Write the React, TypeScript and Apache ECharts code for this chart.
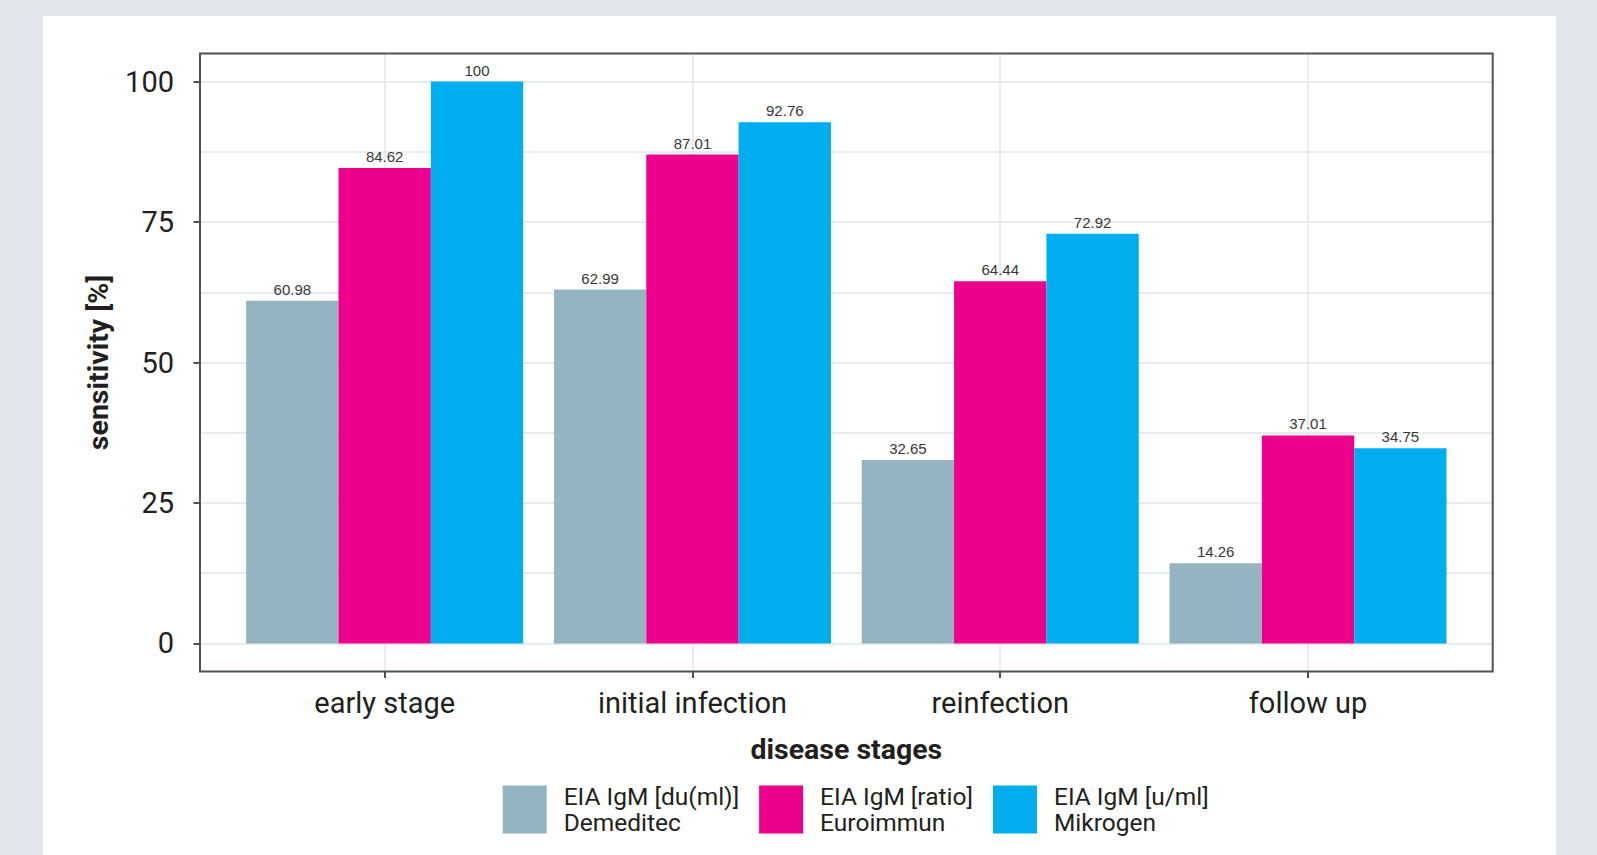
import React, { useEffect, useRef } from "react";
import * as echarts from "echarts";

// Sensitivity of three IgM EIA kits per disease stage
const stages = ["early stage", "initial infection", "reinfection", "follow up"];
const demeditec = [60.98, 62.99, 32.65, 14.26];
const euroimmun = [84.62, 87.01, 64.44, 37.01];
const mikrogen = [100, 92.76, 72.92, 34.75];
const seriesNames = [
  "EIA IgM [du(ml)]\nDemeditec",
  "EIA IgM [ratio]\nEuroimmun",
  "EIA IgM [u/ml]\nMikrogen",
];
const seriesValues = [demeditec, euroimmun, mikrogen];
const seriesColors = ["#95b4c1", "#ec008c", "#00aeef"];
const yTickStep = 25;
const yMin = 0;
const yMax = 100;

// panel geometry (ggplot-like expanded panel)
const W = 1597;
const H = 855;
const PANEL = { x: 200, y: 53.5, w: 1292.7, h: 618 };
const Y_EXPAND = 0.05; // of data range on each side
const X_EXPAND = 0.6; // category units on each side

const FONT = "Roboto, 'Noto Sans', sans-serif";
const INK = "#231f20";
const FRAME = "#4b5356";
const GRID = "#e1e6e9";

export default function App() {
  const ref = useRef<HTMLDivElement>(null);

  useEffect(() => {
    if (!ref.current) return;
    const chart = echarts.init(ref.current, undefined, { renderer: "svg" });

    const span = yMax - yMin;
    const fullSpan = span * (1 + 2 * Y_EXPAND);
    const pxPerUnit = PANEL.h / fullSpan;
    const innerTop = PANEL.y + Y_EXPAND * span * pxPerUnit;
    const innerHeight = span * pxPerUnit;

    const n = stages.length;
    const unit = PANEL.w / (n - 1 + 2 * X_EXPAND);
    const bandLeft = PANEL.x + (X_EXPAND - 0.5) * unit;
    const bandWidth = n * unit;

    chart.setOption({
      animation: false,
      backgroundColor: "#e1e6ea",
      graphic: [
        {
          type: "rect",
          z: -10,
          silent: true,
          shape: { x: 43, y: 16, width: 1513, height: H },
          style: { fill: "#ffffff" },
        },
        {
          type: "rect",
          z: 10,
          silent: true,
          shape: { x: PANEL.x, y: PANEL.y, width: PANEL.w, height: PANEL.h },
          style: { fill: "none", stroke: FRAME, lineWidth: 2 },
        },
      ],
      grid: [
        {
          left: PANEL.x,
          top: innerTop,
          width: PANEL.w,
          height: innerHeight,
          outerBoundsMode: "none",
        },
        {
          left: bandLeft,
          top: PANEL.y,
          width: bandWidth,
          height: PANEL.h,
          outerBoundsMode: "none",
        },
      ],
      xAxis: [
        { gridIndex: 0, type: "value", min: 0, max: 1, show: false },
        {
          // vertical grid lines at category centres
          gridIndex: 1,
          type: "category",
          position: "bottom",
          data: stages,
          axisLine: { show: false, onZero: false },
          axisLabel: { show: false },
          axisTick: {
            show: true,
            alignWithLabel: true,
            inside: true,
            length: PANEL.h,
            lineStyle: { color: GRID, width: 1.5 },
          },
          splitLine: { show: false },
        },
        {
          gridIndex: 1,
          type: "category",
          position: "bottom",
          data: stages,
          axisLine: { show: false, onZero: false },
          axisTick: {
            show: true,
            alignWithLabel: true,
            length: 6.5,
            lineStyle: { color: FRAME, width: 2 },
          },
          axisLabel: {
            show: true,
            margin: 17,
            fontFamily: FONT,
            fontSize: 29,
            color: INK,
          },
          splitLine: { show: false },
          name: "disease stages",
          nameLocation: "middle",
          nameGap: 63,
          nameTextStyle: {
            fontFamily: FONT,
            fontSize: 28.5,
            fontWeight: "bold",
            color: INK,
          },
        },
      ],
      yAxis: [
        {
          gridIndex: 0,
          type: "value",
          min: yMin,
          max: yMax,
          interval: yTickStep,
          axisLine: { show: false },
          axisTick: {
            show: true,
            length: 6.5,
            lineStyle: { color: FRAME, width: 2 },
          },
          minorTick: { show: false, splitNumber: 2 },
          axisLabel: {
            margin: 26,
            fontFamily: FONT,
            fontSize: 29,
            color: INK,
          },
          splitLine: { show: true, lineStyle: { color: GRID, width: 1.5 } },
          minorSplitLine: { show: true, lineStyle: { color: GRID, width: 1.5 } },
          name: "sensitivity [%]",
          nameLocation: "middle",
          nameGap: 87,
          nameTextStyle: {
            fontFamily: FONT,
            fontSize: 28.5,
            fontWeight: "bold",
            color: INK,
          },
        },
        {
          gridIndex: 1,
          type: "value",
          min: yMin - Y_EXPAND * span,
          max: yMax + Y_EXPAND * span,
          show: false,
        },
      ],
      legend: {
        left: 502.7,
        top: 783,
        padding: 0,
        orient: "horizontal",
        icon: "rect",
        itemWidth: 44,
        itemHeight: 48,
        itemGap: 20,
        selectedMode: false,
        data: seriesNames,
        textStyle: {
          fontFamily: FONT,
          fontSize: 24.5,
          lineHeight: 26.6,
          color: INK,
          padding: [0, 0, 0, 12],
        },
      },
      series: seriesNames.map((name, i) => ({
        type: "bar",
        name,
        xAxisIndex: 1,
        yAxisIndex: 1,
        data: seriesValues[i],
        barGap: "0%",
        barCategoryGap: "10%",
        itemStyle: { color: seriesColors[i] },
        emphasis: { disabled: true },
        label: {
          show: true,
          position: "top",
          distance: 4,
          fontFamily: "'Liberation Sans', Arial, sans-serif",
          fontSize: 15,
          color: "#383838",
          formatter: (p: any) => String(p.value),
        },
      })),
    });

    return () => chart.dispose();
  }, []);

  return (
    <div
      style={{
        position: "absolute",
        left: 0,
        top: 0,
        width: W,
        height: H,
        overflow: "hidden",
      }}
    >
      <div ref={ref} style={{ width: W, height: H }} />
    </div>
  );
}
